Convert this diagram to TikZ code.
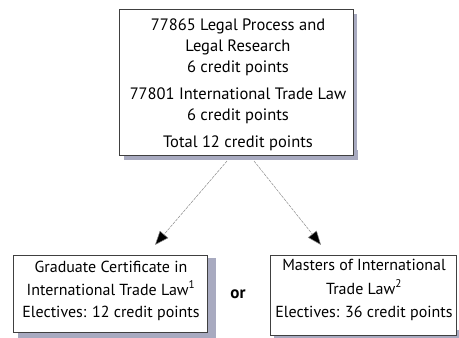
\documentclass[tikz,border=0pt]{standalone}
\usepackage{fontspec}
\setmainfont{PT Sans}
\usetikzlibrary{arrows.meta}
\definecolor{shadowtone}{RGB}{168,170,192}
\begin{document}
\begin{tikzpicture}[x=1pt,y=-1pt,
  box/.style={draw=black!75, line width=0.6pt, fill=white, inner sep=0pt},
  boxtext/.style={align=center, inner sep=0pt, font=\fontsize{16.5}{21}\selectfont},
  shadowfill/.style={fill=shadowtone},
  link/.style={draw=black!45, line width=0.5pt, dash pattern=on 3pt off 1pt,
    -{Triangle[length=14pt,width=11pt,fill=black]}}]
\useasboundingbox (0,0) rectangle (459,338);
\coordinate (sh1a) at (124,150);   \coordinate (sh1b) at (358,160);
\coordinate (sh2a) at (350,14);    \coordinate (sh2b) at (357,160);
\coordinate (sh3a) at (18,328);    \coordinate (sh3b) at (216,337.5);
\coordinate (sh4a) at (200,258);   \coordinate (sh4b) at (216,337.5);
\coordinate (sh5a) at (274,330);   \coordinate (sh5b) at (459,338);
\path[shadowfill] (sh1a) rectangle (sh1b);
\path[shadowfill] (sh2a) rectangle (sh2b);
\path[shadowfill] (sh3a) rectangle (sh3b);
\path[shadowfill] (sh4a) rectangle (sh4b);
\path[shadowfill] (sh5a) rectangle (sh5b);
\node[box, minimum width=234pt, minimum height=146pt] (top) at (236,82) {};
\node[boxtext] (toptext) at (238,85)
  {77865 Legal Process and\\ Legal Research\\ 6 credit points\\[6pt]
   77801 International Trade Law\\ 6 credit points\\[6pt]
   Total 12 credit points};
\node[box, minimum width=194pt, minimum height=77pt] (gc) at (110,293.5) {};
\node[boxtext, font=\fontsize{16}{22.5}\selectfont] (gctext) at (111,291)
  {Graduate Certificate in\\ International Trade Law\textsuperscript{1}\\ Electives: 12 credit points};
\node[box, minimum width=186pt, minimum height=80pt] (mit) at (363,295) {};
\node[boxtext, font=\fontsize{16}{23.5}\selectfont] (mittext) at (364,290)
  {Masters of International\\ Trade Law\textsuperscript{2}\\ Electives: 36 credit points};
\node[font=\fontsize{17}{18}\selectfont\bfseries] (or) at (238,294) {or};
\coordinate (s1) at (227,161);
\coordinate (s2) at (254,161);
\coordinate (e1) at (155,245);
\coordinate (e2) at (321,245);
\draw[link] (s1) -- (e1);
\draw[link] (s2) -- (e2);
\end{tikzpicture}
\end{document}
